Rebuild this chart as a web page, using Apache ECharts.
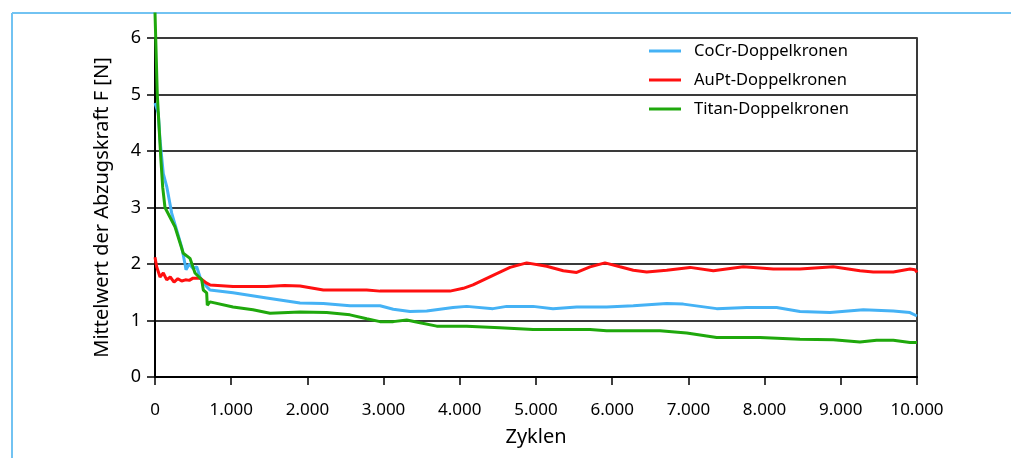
<!DOCTYPE html>
<html>
<head>
<meta charset="utf-8">
<script src="https://cdn.jsdelivr.net/npm/echarts@6/dist/echarts.min.js"></script>
<style>
  html, body { margin: 0; padding: 0; background: #fff; }
  #chart { width: 1011px; height: 458px; }
</style>
</head>
<body>
<div id="chart"></div>
<script>
// series names (legend order)
const names = ['CoCr-Doppelkronen', 'AuPt-Doppelkronen', 'Titan-Doppelkronen']

// [Zyklen, Mittelwert F in N]
const cocr = [
  [0, 4.85], [43, 4.67], [66, 4.19], [109, 3.6], [154, 3.37], [219, 2.9], [285, 2.6],
  [350, 2.3], [394, 2.0], [407, 1.9], [450, 2.0], [500, 1.92], [547, 1.95], [591, 1.77],
  [678, 1.6], [722, 1.54], [1024, 1.49], [1466, 1.4], [1903, 1.31], [2209, 1.3],
  [2559, 1.26], [2953, 1.26], [3127, 1.2], [3346, 1.16], [3566, 1.17], [3911, 1.23],
  [4090, 1.25], [4436, 1.21], [4615, 1.25], [4961, 1.25], [5223, 1.21], [5534, 1.24],
  [5927, 1.24], [6277, 1.26], [6715, 1.3], [6933, 1.29], [7152, 1.25], [7371, 1.21],
  [7765, 1.23], [8158, 1.23], [8464, 1.16], [8858, 1.14], [9295, 1.19], [9689, 1.17],
  [9908, 1.14], [10000, 1.08]
]

const aupt = [
  [0, 2.12], [22, 1.95], [66, 1.77], [109, 1.84], [154, 1.72], [200, 1.77], [250, 1.68],
  [300, 1.74], [350, 1.7], [400, 1.72], [450, 1.71], [499, 1.75], [591, 1.75], [678, 1.66],
  [722, 1.63], [1024, 1.6], [1466, 1.6], [1700, 1.62], [1903, 1.61], [2209, 1.54],
  [2778, 1.54], [2953, 1.52], [3871, 1.52], [4046, 1.57], [4173, 1.63], [4436, 1.8],
  [4659, 1.94], [4878, 2.02], [5140, 1.96], [5358, 1.88], [5534, 1.85], [5709, 1.95],
  [5905, 2.02], [6102, 1.95], [6277, 1.89], [6453, 1.86], [6715, 1.89], [7021, 1.94],
  [7327, 1.88], [7720, 1.95], [8114, 1.91], [8464, 1.91], [8901, 1.95], [9251, 1.88],
  [9426, 1.86], [9689, 1.86], [9908, 1.91], [9973, 1.9], [10000, 1.85]
]

const titan = [
  [0, 6.45], [30, 5.0], [75, 3.9], [101, 3.36], [131, 3.0], [262, 2.66], [371, 2.19],
  [459, 2.1], [525, 1.84], [613, 1.72], [634, 1.54], [678, 1.49], [686, 1.27], [722, 1.33],
  [1024, 1.24], [1286, 1.19], [1509, 1.13], [1903, 1.15], [2253, 1.14], [2559, 1.1],
  [2778, 1.03], [2953, 0.98], [3127, 0.98], [3303, 1.01], [3478, 0.96], [3697, 0.9],
  [4090, 0.9], [4527, 0.87], [4961, 0.84], [5709, 0.84], [5927, 0.82], [6627, 0.82],
  [6978, 0.78], [7371, 0.7], [7939, 0.7], [8464, 0.67], [8901, 0.66], [9251, 0.62],
  [9470, 0.65], [9689, 0.65], [9908, 0.61], [10000, 0.61]
]

const yTicks = [0, 1, 2, 3, 4, 5, 6]
const colors = ['#45b2f5', '#ff1010', '#1fa80c']

const chart = echarts.init(document.getElementById('chart'))
const font = '"Noto Sans", "Open Sans", sans-serif'

const option = {
  animation: false,
  backgroundColor: '#fff',
  textStyle: { fontFamily: font, color: '#000' },
  grid: { left: 155, right: 94, top: 38, bottom: 81 },
  graphic: [
    { type: 'line', shape: { x1: 12, y1: 13, x2: 1011, y2: 13 }, style: { stroke: '#72c3f2', lineWidth: 2 } },
    { type: 'line', shape: { x1: 12, y1: 13, x2: 12, y2: 458 }, style: { stroke: '#72c3f2', lineWidth: 2 } }
  ],
  legend: {
    orient: 'vertical',
    left: 649,
    top: 41,
    padding: 0,
    icon: 'rect',
    itemWidth: 32,
    itemHeight: 3,
    itemGap: 9,
    data: names,
    textStyle: { fontFamily: font, fontSize: 16.5, color: '#000', lineHeight: 20, padding: [0, 0, 0, 8] }
  },
  xAxis: {
    type: 'value',
    min: 0,
    max: 10000,
    interval: 1000,
    name: 'Zyklen',
    nameLocation: 'middle',
    nameGap: 50,
    nameTextStyle: { fontFamily: font, fontSize: 20, color: '#000' },
    axisLine: { lineStyle: { color: '#000', width: 2 } },
    axisTick: { length: 8, lineStyle: { color: '#000', width: 1.5 } },
    axisLabel: {
      margin: 25,
      fontSize: 17,
      color: '#000',
      fontFamily: font,
      formatter: v => v >= 1000 ? Math.floor(v / 1000) + '.' + String(v % 1000).padStart(3, '0') : String(v)
    },
    splitLine: { show: false }
  },
  yAxis: [
    {
      type: 'value',
      min: 0,
      max: 6,
      interval: 1,
      name: 'Mittelwert der Abzugskraft F [N]',
      nameLocation: 'middle',
      nameGap: 43,
      nameTextStyle: { fontFamily: font, fontSize: 20, color: '#000' },
      axisLine: { show: true, lineStyle: { color: '#000', width: 2 } },
      axisTick: { show: true, length: 8, lineStyle: { color: '#000', width: 1.5 } },
      axisLabel: { margin: 14, fontSize: 18, color: '#000', fontFamily: font, customValues: yTicks },
      splitLine: { show: true, lineStyle: { color: '#3a3a3a', width: 2 } }
    },
    {
      type: 'value',
      position: 'right',
      min: 0,
      max: 6,
      axisLine: { show: true, lineStyle: { color: '#3a3a3a', width: 2 } },
      axisTick: { show: false },
      axisLabel: { show: false },
      splitLine: { show: false }
    }
  ],
  series: [
    { name: names[0], type: 'line', data: cocr, showSymbol: false, color: colors[0], lineStyle: { width: 3 }, z: 3 },
    { name: names[1], type: 'line', data: aupt, showSymbol: false, color: colors[1], lineStyle: { width: 3 }, z: 4 },
    { name: names[2], type: 'line', data: titan, showSymbol: false, clip: false, color: colors[2], lineStyle: { width: 3 }, z: 5 }
  ]
}

chart.setOption(option)

window.addEventListener('resize', () => chart.resize())
</script>
</body>
</html>
